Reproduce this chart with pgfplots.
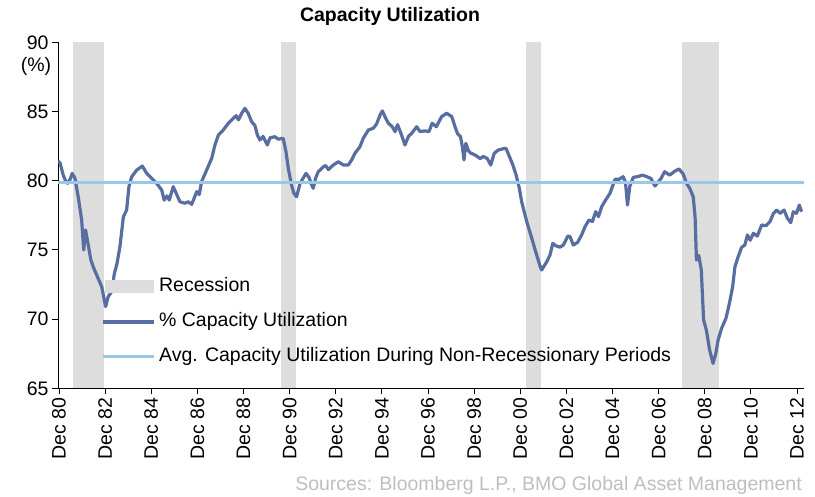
\documentclass[border=0pt]{standalone}
\usepackage{pgfplots}
\pgfplotsset{compat=1.18}
\usepackage{fontspec}
\setmainfont{Liberation Sans}
\definecolor{culine}{RGB}{89,110,160}
\definecolor{avgline}{RGB}{155,200,230}
\definecolor{recgray}{RGB}{221,221,221}
\definecolor{srcgray}{RGB}{190,190,190}
\newcommand{\chartfont}{\fontsize{19.5}{21}\selectfont}
\pgfplotstableread{
x y
1980.874 81.4
1980.96 81.3
1981.10 80.41
1981.20 80.0
1981.29 79.81
1981.40 80.1
1981.49 80.53
1981.61 80.17
1981.75 78.84
1981.90 77.16
1981.99 74.99
1982.07 76.44
1982.16 75.59
1982.30 74.27
1982.42 73.7
1982.55 73.19
1982.77 72.34
1982.84 71.74
1982.94 70.9
1983.05 71.62
1983.20 71.98
1983.32 73.31
1983.42 73.91
1983.56 75.23
1983.71 77.4
1983.85 77.88
1983.95 79.57
1984.07 80.29
1984.29 80.77
1984.53 81.06
1984.72 80.53
1984.94 80.17
1985.15 79.81
1985.37 79.33
1985.48 78.6
1985.60 78.9
1985.70 78.6
1985.87 79.57
1986.00 79.09
1986.16 78.48
1986.38 78.37
1986.52 78.48
1986.67 78.29
1986.89 79.21
1987.00 79.0
1987.10 79.93
1987.32 80.77
1987.54 81.62
1987.68 82.58
1987.83 83.3
1988.04 83.66
1988.26 84.15
1988.48 84.51
1988.60 84.7
1988.70 84.4
1988.84 84.87
1988.98 85.23
1989.12 84.87
1989.27 84.26
1989.41 84.0
1989.52 83.3
1989.63 82.94
1989.77 83.2
1989.95 82.58
1990.07 83.1
1990.28 83.18
1990.42 83.0
1990.64 83.06
1990.76 82.1
1990.86 80.9
1991.00 79.69
1991.10 79.1
1991.22 78.84
1991.37 79.8
1991.51 80.2
1991.63 80.53
1991.77 80.2
1991.85 79.8
1991.94 79.45
1992.05 80.2
1992.16 80.65
1992.38 81.0
1992.48 81.1
1992.60 80.8
1992.81 81.13
1993.03 81.37
1993.25 81.13
1993.46 81.13
1993.61 81.5
1993.75 81.98
1993.97 82.46
1994.11 83.06
1994.33 83.66
1994.55 83.79
1994.69 84.1
1994.84 84.75
1994.94 85.04
1995.06 84.6
1995.20 84.15
1995.37 83.9
1995.49 83.54
1995.60 84.05
1995.75 83.4
1995.92 82.58
1996.07 83.2
1996.20 83.4
1996.43 83.9
1996.57 83.55
1996.79 83.6
1996.96 83.55
1997.10 84.15
1997.28 83.9
1997.51 84.63
1997.73 84.87
1997.95 84.63
1998.09 83.9
1998.20 83.4
1998.33 83.18
1998.42 82.34
1998.48 81.5
1998.56 82.7
1998.66 82.2
1998.76 82.0
1998.96 81.86
1999.18 81.6
1999.32 81.75
1999.49 81.6
1999.64 81.13
1999.79 81.98
1999.97 82.22
2000.16 82.3
2000.30 82.34
2000.48 81.62
2000.60 81.13
2000.74 80.41
2000.88 79.45
2000.98 78.48
2001.20 77.04
2001.42 75.84
2001.63 74.63
2001.81 73.67
2001.85 73.55
2001.94 73.8
2002.07 74.15
2002.21 74.63
2002.33 75.47
2002.46 75.3
2002.64 75.2
2002.79 75.35
2002.98 76.0
2003.08 75.95
2003.22 75.35
2003.41 75.55
2003.58 76.08
2003.73 76.68
2003.90 77.16
2004.05 77.05
2004.19 77.76
2004.31 77.4
2004.45 78.12
2004.62 78.6
2004.81 79.09
2004.91 79.55
2005.03 80.1
2005.20 80.1
2005.38 80.29
2005.48 79.9
2005.57 78.24
2005.67 79.6
2005.82 80.24
2006.03 80.3
2006.21 80.4
2006.40 80.3
2006.59 80.15
2006.76 79.62
2006.90 79.9
2007.02 80.15
2007.18 80.65
2007.40 80.4
2007.59 80.65
2007.80 80.85
2007.98 80.5
2008.13 79.81
2008.27 79.45
2008.42 78.84
2008.50 77.4
2008.56 74.27
2008.66 74.6
2008.77 73.55
2008.87 69.93
2008.99 69.21
2009.13 67.77
2009.28 66.8
2009.40 67.53
2009.50 68.49
2009.65 69.33
2009.84 70.06
2009.99 71.14
2010.13 72.34
2010.23 73.79
2010.37 74.51
2010.52 75.19
2010.66 75.35
2010.77 76.08
2010.89 75.7
2011.03 76.2
2011.20 76.0
2011.39 76.8
2011.58 76.75
2011.75 77.05
2011.90 77.64
2012.04 77.88
2012.19 77.64
2012.36 77.88
2012.50 77.3
2012.65 76.97
2012.76 77.76
2012.90 77.64
2013.02 78.24
2013.12 77.76
}\cudata
\begin{document}
\begin{tikzpicture}
\useasboundingbox (0,0) rectangle (815pt,497pt);
\begin{axis}[
  at={(58pt,108.7pt)}, anchor=south west,
  scale only axis, width=746pt, height=346pt,
  xmin=1980.874, xmax=2013.224, ymin=65, ymax=90,
  axis lines*=left,
  axis line style={black, line width=0.8pt},
  tick align=outside, tick pos=left,
  major tick length=6pt,
  major tick style={black, line width=0.8pt},
  ytick={65,70,75,80,85,90},
  xtick={1980.917,1982.917,1984.917,1986.917,1988.917,1990.917,1992.917,1994.917,1996.917,1998.917,2000.917,2002.917,2004.917,2006.917,2008.917,2010.917,2012.917},
  xticklabels={Dec 80,Dec 82,Dec 84,Dec 86,Dec 88,Dec 90,Dec 92,Dec 94,Dec 96,Dec 98,Dec 00,Dec 02,Dec 04,Dec 06,Dec 08,Dec 10,Dec 12},
  tick label style={font=\chartfont},
  /pgf/number format/assume math mode=true,
  x tick label style={rotate=90, anchor=east},
  y tick label style={anchor=east},
  legend cell align=left,
  legend style={at={(0.0576,0.3188)}, anchor=north west, draw=none, fill=none,
    inner sep=0pt, outer sep=0pt, row sep=17pt, column sep=4pt, font=\chartfont,
    nodes={inner sep=0pt, outer sep=0pt, text height=14pt, text depth=4pt}},
]
\addplot[fill=recgray, draw=none,
  legend image code/.code={\fill[recgray] (2pt,-6.5pt) rectangle (51pt,6.5pt);}]
  coordinates {(1981.524,65) (1981.524,90) (1982.868,90) (1982.868,65)};
\addlegendentry{Recession}
\addplot[fill=recgray, draw=none, forget plot]
  coordinates {(1990.544,65) (1990.544,90) (1991.18,90) (1991.18,65)};
\addplot[fill=recgray, draw=none, forget plot]
  coordinates {(2001.17,65) (2001.17,90) (2001.806,90) (2001.806,65)};
\addplot[fill=recgray, draw=none, forget plot]
  coordinates {(2007.95,65) (2007.95,90) (2009.55,90) (2009.55,65)};
\addplot[culine, line width=3.2pt, line join=round,
  legend image code/.code={\draw[culine, line width=3.2pt] (0pt,0pt) -- (51pt,0pt);}]
  table[x=x, y=y] {\cudata};
\addlegendentry{\% Capacity Utilization}
\addplot[avgline, line width=3pt,
  legend image code/.code={\draw[avgline, line width=3pt] (0pt,0pt) -- (51pt,0pt);}]
  coordinates {(1980.874,79.85) (2013.224,79.85)};
\addlegendentry{Avg. Capacity Utilization During Non-Recessionary Periods}
\end{axis}
\node[anchor=base, font=\bfseries\chartfont] at (390pt,475pt) {Capacity Utilization};
\node[anchor=base, font=\chartfont] at (36pt,425pt) {(\%)};
\node[anchor=base east, font=\chartfont, text=srcgray, inner sep=0pt] at (802pt,6pt) {Sources: Bloomberg L.P., BMO Global Asset Management};
\end{tikzpicture}
\end{document}
